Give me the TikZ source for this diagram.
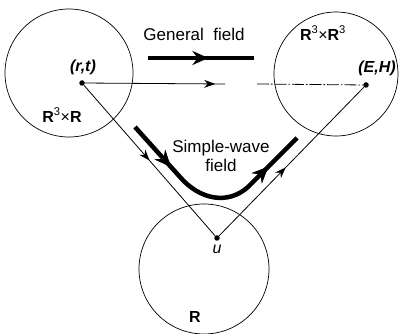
\documentclass[tikz,border=0pt]{standalone}
\usepackage{fontspec}
\setmainfont{Liberation Sans}
\usetikzlibrary{arrows.meta,decorations.markings}
\begin{document}
\begin{tikzpicture}[x=1pt,y=-1pt,
  ring/.style={circle,draw,line width=0.7pt,minimum size=#1,inner sep=0pt},
  dotnode/.style={circle,fill,minimum size=5.5pt,inner sep=0pt},
  thin/.style={line width=0.8pt},
  thick arrow/.style={line width=4.5pt},
  midthin/.style={postaction={decorate},decoration={markings,mark=at position #1 with {\arrow{Stealth[length=11pt,width=8pt]}}}},
  midthick/.style={postaction={decorate},decoration={markings,mark=at position #1 with {\arrow{Stealth[length=16pt,width=14pt]}}}},
  lbl/.style={font=\fontsize{16}{18}\selectfont,inner sep=0pt},
  biglbl/.style={font=\fontsize{17}{19}\selectfont,inner sep=0pt}
]
\useasboundingbox (0,0) rectangle (402,334);
% circles
\node[ring=128pt] (C1) at (69,73) {};
\node[ring=124pt] (C2) at (336,74) {};
\node[ring=130pt] (C3) at (204,269) {};
% points
\node[dotnode] (rt) at (82,83) {};
\node[dotnode] (EH) at (366,85) {};
\node[dotnode] (u) at (217,238) {};
\coordinate (h1) at (225,84);
\coordinate (h2) at (257,84);
% labels
\node[lbl] (lrt) at (83,67) {\textbf{\textit{(r,t)}}};
\node[lbl] (lEH) at (377,68) {\textbf{\textit{(E,H)}}};
\node[lbl] (lR3R) at (62,115) {\textbf{R}\textsuperscript{3}×\textbf{R}};
\node[lbl] (lR3R3) at (323,33) {\textbf{R}\textsuperscript{3}×\textbf{R}\textsuperscript{3}};
\node[lbl] (lu) at (217,249) {\textit{u}};
\node[lbl] (lR) at (195,317) {\textbf{R}};
\node[biglbl] (lgen) at (194,34) {General\ \ field};
\node[biglbl,align=center] (lsw) at (221,156) {Simple-wave\\field};
% thin connectors
\draw[thin,midthin=0.5] (rt) -- (u);
\draw[thin,midthin=0.46] (u) -- (EH);
\draw[thin,midthin=0.93] (rt) -- (h1);
\draw[thin,dash pattern=on 12pt off 2pt on 1.5pt off 2pt] (h2) -- (EH);
% thick arrows
\coordinate (g1) at (148,58);
\coordinate (g2) at (254,58);
\draw[thick arrow,midthick=0.57] (g1) -- (g2);
\coordinate (s1) at (135,127);
\coordinate (s2) at (297,138);
\draw[thick arrow,midthick=0.25,midthick=0.81] (s1) -- (180,177) .. controls (200,200) and (228,205) .. (248,187) -- (s2);
\end{tikzpicture}
\end{document}
